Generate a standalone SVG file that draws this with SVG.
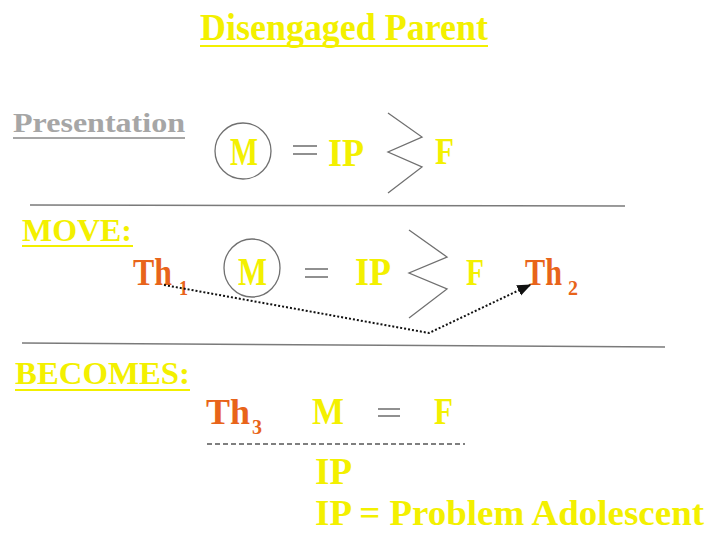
<svg xmlns="http://www.w3.org/2000/svg" width="709" height="535" viewBox="0 0 709 535">
<style>
text{font-family:"Liberation Serif","Times New Roman",serif;font-weight:bold}
.y{fill:#f3f000}
.o{fill:#e8641a}
.g{fill:#a6a6a6}
.sub{font-size:20px}
.ul{stroke-width:2}
.eq{stroke:#909090;stroke-width:2}
.zz{fill:none;stroke:#707070;stroke-width:1.3}
.ring{fill:none;stroke:#707070;stroke-width:1.3}
.rule{stroke:#7a7a7a;stroke-width:1.5}
</style>
<defs>
<marker id="ah" viewBox="0 0 10 10" refX="9" refY="5" markerWidth="7" markerHeight="7" orient="auto"><path d="M0,1 L10,5 L0,9 z" fill="#111"/></marker>
</defs>
<rect width="709" height="535" fill="#fff"/>
<g id="title">
<text class="y" x="200" y="40" font-size="37" textLength="288" lengthAdjust="spacingAndGlyphs">Disengaged Parent</text>
<line x1="200" y1="46" x2="488" y2="46" stroke="#f3f000" class="ul"/>
</g>
<g id="presentation">
<text class="g" x="13" y="132" font-size="27" textLength="172" lengthAdjust="spacingAndGlyphs">Presentation</text>
<line x1="13" y1="138" x2="185" y2="138" stroke="#a6a6a6" class="ul"/>
</g>
<g id="row1">
<ellipse class="ring" cx="243" cy="151" rx="28" ry="28"/>
<text class="y" x="230" y="165" font-size="40" textLength="28" lengthAdjust="spacingAndGlyphs">M</text>
<line class="eq" x1="293" y1="146" x2="317" y2="146"/>
<line class="eq" x1="293" y1="154" x2="317" y2="154"/>
<text class="y" x="328" y="166" font-size="40" textLength="36" lengthAdjust="spacingAndGlyphs">IP</text>
<polyline class="zz" points="388,113 422,137 388,152 422,167 388,193"/>
<text class="y" x="435" y="164" font-size="38" textLength="19" lengthAdjust="spacingAndGlyphs">F</text>
</g>
<line class="rule" x1="30" y1="205" x2="625" y2="206"/>
<g id="move">
<text class="y" x="22" y="241" font-size="32" textLength="110" lengthAdjust="spacingAndGlyphs">MOVE:</text>
<line x1="22" y1="246" x2="133" y2="246" stroke="#f3f000" class="ul"/>
</g>
<g id="row2">
<text id="th1" class="o" x="133" y="285" font-size="38" textLength="39" lengthAdjust="spacingAndGlyphs">Th</text>
<text class="o sub" x="179" y="295" textLength="9" lengthAdjust="spacingAndGlyphs">1</text>
<ellipse class="ring" cx="252" cy="268" rx="28" ry="29"/>
<text class="y" x="238" y="285" font-size="40" textLength="29" lengthAdjust="spacingAndGlyphs">M</text>
<line class="eq" x1="305" y1="269" x2="328" y2="269"/>
<line class="eq" x1="305" y1="277" x2="328" y2="277"/>
<text class="y" x="355" y="285" font-size="40" textLength="36" lengthAdjust="spacingAndGlyphs">IP</text>
<polyline class="zz" points="409,230 447,257 409,273 447,289 409,318"/>
<text class="y" x="466" y="285" font-size="38" textLength="18" lengthAdjust="spacingAndGlyphs">F</text>
<text id="th2" class="o" x="525" y="285" font-size="38" textLength="37" lengthAdjust="spacingAndGlyphs">Th</text>
<text class="o sub" x="568" y="295" textLength="10" lengthAdjust="spacingAndGlyphs">2</text>
</g>
<g id="connectors">
<polyline points="164,285 429,333 530,285" fill="none" stroke="#111" stroke-width="2" stroke-dasharray="2,2" marker-end="url(#ah)"/>
</g>
<line class="rule" x1="22" y1="343" x2="665" y2="347"/>
<g id="becomes">
<text class="y" x="15" y="384" font-size="32" textLength="175" lengthAdjust="spacingAndGlyphs">BECOMES:</text>
<line x1="15" y1="390" x2="190" y2="390" stroke="#f3f000" class="ul"/>
</g>
<g id="row3">
<text id="th3" class="o" x="206" y="424" font-size="36" textLength="44" lengthAdjust="spacingAndGlyphs">Th</text>
<text class="o sub" x="252" y="434" textLength="10" lengthAdjust="spacingAndGlyphs">3</text>
<text class="y" x="312" y="424" font-size="38" textLength="32" lengthAdjust="spacingAndGlyphs">M</text>
<line class="eq" x1="378" y1="409" x2="400" y2="409"/>
<line class="eq" x1="378" y1="416" x2="400" y2="416"/>
<text class="y" x="434" y="424" font-size="38" textLength="19" lengthAdjust="spacingAndGlyphs">F</text>
<line x1="207" y1="444" x2="465" y2="444" stroke="#555" stroke-width="1.5" stroke-dasharray="5,3"/>
<text class="y" x="315" y="484" font-size="38" textLength="37" lengthAdjust="spacingAndGlyphs">IP</text>
<text class="y" x="315" y="525" font-size="36" textLength="389" lengthAdjust="spacingAndGlyphs">IP = Problem Adolescent</text>
</g>
</svg>
